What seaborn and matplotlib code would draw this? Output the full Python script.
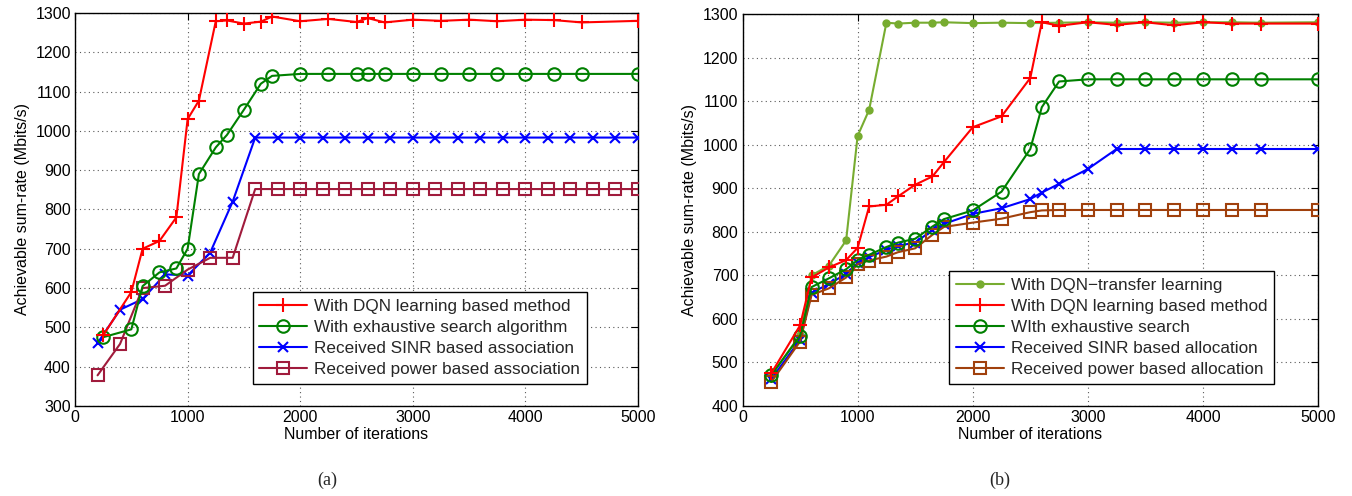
import matplotlib
matplotlib.use("Agg")
import matplotlib.pyplot as plt
import numpy as np
import pandas as pd
import seaborn as sns

# ---------------- data: panel (a) ----------------
x_dqn_a = [250, 500, 600, 750, 900, 1000, 1100, 1250, 1350, 1500, 1650, 1750, 2000,
           2250, 2500, 2600, 2750, 3000, 3250, 3500, 3750, 4000, 4250, 4500, 5000]
y_dqn_a = [480, 590, 700, 720, 780, 1030, 1077, 1279, 1281, 1273, 1278, 1291, 1279,
           1285, 1277, 1287, 1276, 1283, 1280, 1283, 1279, 1283, 1282, 1276, 1280]

x_exh_a = [250, 500, 600, 750, 900, 1000, 1100, 1250, 1350, 1500, 1650, 1750, 2000,
           2250, 2500, 2600, 2750, 3000, 3250, 3500, 3750, 4000, 4250, 4500, 5000]
y_exh_a = [475, 495, 605, 640, 650, 700, 890, 958, 990, 1054, 1120, 1140, 1145,
           1145, 1145, 1145, 1145, 1145, 1145, 1145, 1145, 1145, 1145, 1145, 1145]

x_sinr_a = [200, 400, 600, 800, 1000, 1200, 1400, 1600, 1800, 2000, 2200, 2400, 2600,
            2800, 3000, 3200, 3400, 3600, 3800, 4000, 4200, 4400, 4600, 4800, 5000]
y_sinr_a = [460, 545, 572, 635, 632, 690, 820, 983, 983, 983, 983, 983, 983,
            983, 983, 983, 983, 983, 983, 983, 983, 983, 983, 983, 983]

x_pow_a = [200, 400, 600, 800, 1000, 1200, 1400, 1600, 1800, 2000, 2200, 2400, 2600,
           2800, 3000, 3200, 3400, 3600, 3800, 4000, 4200, 4400, 4600, 4800, 5000]
y_pow_a = [378, 458, 600, 606, 647, 677, 677, 852, 852, 852, 852, 852, 852,
           852, 852, 852, 852, 852, 852, 852, 852, 852, 852, 852, 852]

labels_a = ["With DQN learning based method", "With exhaustive search algorithm",
            "Received SINR based association", "Received power based association"]

# ---------------- data: panel (b) ----------------
x_tl_b = [250, 500, 600, 750, 900, 1000, 1100, 1250, 1350, 1500, 1650, 1750, 2000,
          2250, 2500, 2750, 3000, 3250, 3500, 3750, 4000, 4250, 4500, 5000]
y_tl_b = [470, 563, 700, 722, 780, 1020, 1080, 1280, 1278, 1280, 1280, 1281, 1279,
          1280, 1279, 1280, 1281, 1280, 1281, 1280, 1281, 1281, 1280, 1281]

x_dqn_b = [250, 500, 600, 750, 900, 1000, 1100, 1250, 1350, 1500, 1650, 1750, 2000,
           2250, 2500, 2600, 2750, 3000, 3250, 3500, 3750, 4000, 4250, 4500, 5000]
y_dqn_b = [475, 585, 695, 718, 735, 763, 858, 862, 881, 908, 927, 960, 1040,
           1065, 1153, 1281, 1273, 1281, 1275, 1281, 1274, 1281, 1278, 1278, 1278]

x_exh_b = [250, 500, 600, 750, 900, 1000, 1100, 1250, 1350, 1500, 1650, 1750, 2000,
           2250, 2500, 2600, 2750, 3000, 3250, 3500, 3750, 4000, 4250, 4500, 5000]
y_exh_b = [471, 561, 673, 693, 714, 735, 747, 765, 775, 784, 812, 829, 849,
           892, 990, 1086, 1145, 1150, 1150, 1150, 1150, 1150, 1150, 1150, 1150]

x_sinr_b = [250, 500, 600, 750, 900, 1000, 1100, 1250, 1350, 1500, 1650, 1750, 2000,
            2250, 2500, 2600, 2750, 3000, 3250, 3500, 3750, 4000, 4250, 4500, 5000]
y_sinr_b = [462, 552, 660, 680, 703, 728, 742, 758, 768, 775, 804, 818, 841,
            854, 875, 890, 910, 944, 990, 990, 990, 990, 990, 990, 990]

x_pow_b = [250, 500, 600, 750, 900, 1000, 1100, 1250, 1350, 1500, 1650, 1750, 2000,
           2250, 2500, 2600, 2750, 3000, 3250, 3500, 3750, 4000, 4250, 4500, 5000]
y_pow_b = [455, 548, 655, 670, 695, 726, 734, 743, 753, 762, 793, 811, 821,
           830, 845, 849, 850, 850, 850, 850, 850, 850, 850, 850, 850]

labels_b = ["With DQN\u2212transfer learning", "With DQN learning based method",
            "WIth exhaustive search", "Received SINR based allocation",
            "Received power based allocation"]

xticks = [0, 1000, 2000, 3000, 4000, 5000]
yticks_a = list(range(300, 1301, 100))
yticks_b = list(range(400, 1301, 100))

# ---------------- style ----------------
sns.set_theme(style="white")
plt.rcParams['font.family'] = ['Liberation Sans', 'DejaVu Sans']
plt.rcParams['axes.unicode_minus'] = True

fig = plt.figure(figsize=(13.52, 4.96), dpi=100)
ax1 = fig.add_axes([0.0555, 0.1815, 0.4164, 0.7923])
ax2 = fig.add_axes([0.5492, 0.1815, 0.4257, 0.7903])

RED = "#FF0000"
GREEN = "#008000"
BLUE = "#0000FF"
MAROON = "#A01B3C"
LGREEN = "#77AC30"
BROWN = "#A0400C"


def draw(ax, x, y, color, marker, ms, label, filled=False, z=2):
    sns.lineplot(x=x, y=y, ax=ax, color=color, marker=marker, markersize=ms,
                 markerfacecolor=(color if filled else "none"),
                 markeredgecolor=color, markeredgewidth=1.5, linewidth=1.5,
                 label=label, sort=False, estimator=None, zorder=z)


draw(ax1, x_dqn_a, y_dqn_a, RED, "+", 10, labels_a[0], z=5)
draw(ax1, x_exh_a, y_exh_a, GREEN, "o", 9, labels_a[1], z=4)
draw(ax1, x_sinr_a, y_sinr_a, BLUE, "x", 7, labels_a[2], z=3)
draw(ax1, x_pow_a, y_pow_a, MAROON, "s", 8, labels_a[3], z=3)

draw(ax2, x_tl_b, y_tl_b, LGREEN, "o", 4.5, labels_b[0], filled=True, z=2)
draw(ax2, x_dqn_b, y_dqn_b, RED, "+", 10, labels_b[1], z=5)
draw(ax2, x_exh_b, y_exh_b, GREEN, "o", 9, labels_b[2], z=4)
draw(ax2, x_sinr_b, y_sinr_b, BLUE, "x", 7, labels_b[3], z=3)
draw(ax2, x_pow_b, y_pow_b, BROWN, "s", 8, labels_b[4], z=3)

for ax, yt, legx, ylim in [(ax1, yticks_a, 0.909, (300, 1300)),
                           (ax2, yticks_b, 0.9236, (400, 1300))]:
    ax.set_xlim(0, 5000)
    ax.set_ylim(*ylim)
    ax.set_xticks(xticks)
    ax.set_yticks(yt)
    ax.grid(True, linestyle=(0, (1, 3)), color="0.35", linewidth=0.8)
    ax.tick_params(direction="in", top=True, right=True, length=5, width=0.8,
                   labelsize=11.5, colors="black", pad=3)
    for s in ax.spines.values():
        s.set_color("black")
        s.set_linewidth(1.0)
    ax.set_xlabel("Number of iterations", fontsize=11.5, labelpad=1, color="black")
    ax.set_ylabel("Achievable sum-rate (Mbits/s)", fontsize=11.5, labelpad=4,
                  color="black")
    leg = ax.legend(loc="lower right", bbox_to_anchor=(legx, 0.056), frameon=True,
                    fancybox=False, edgecolor="black", framealpha=1, fontsize=12.3,
                    handlelength=2.8, borderaxespad=0, labelspacing=0.36,
                    borderpad=0.4, handletextpad=0.4)
    leg.get_frame().set_linewidth(1.0)

fig.text(0.2419, 0.032, "(a)", ha="center", va="center", fontsize=13,
         family=["Liberation Serif", "DejaVu Serif"])
fig.text(0.7396, 0.032, "(b)", ha="center", va="center", fontsize=13,
         family=["Liberation Serif", "DejaVu Serif"])

fig.savefig("out.png", dpi=100)
